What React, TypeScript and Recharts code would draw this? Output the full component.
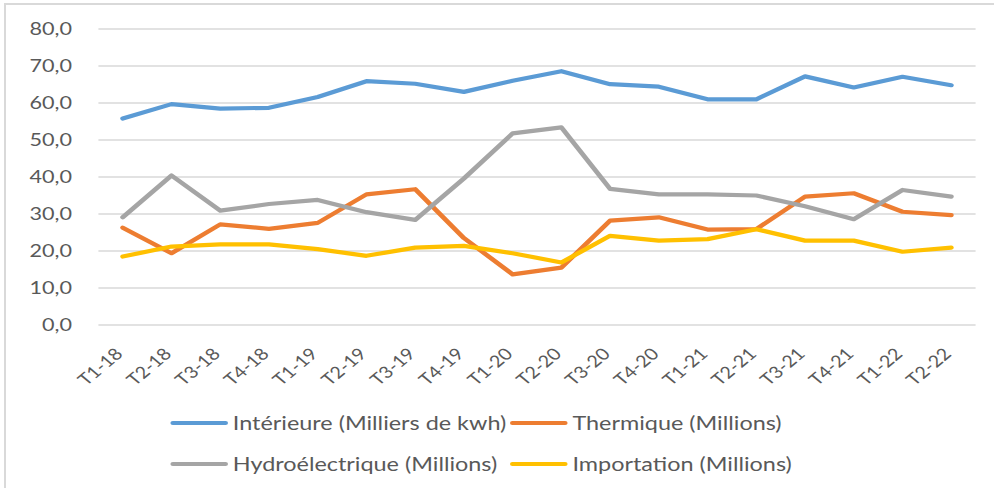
import React from 'react';
import { LineChart, Line, XAxis, YAxis, CartesianGrid, Legend } from 'recharts';

// quarters on the x axis
const quarters = [
  'T1-18', 'T2-18', 'T3-18', 'T4-18',
  'T1-19', 'T2-19', 'T3-19', 'T4-19',
  'T1-20', 'T2-20', 'T3-20', 'T4-20',
  'T1-21', 'T2-21', 'T3-21', 'T4-21',
  'T1-22', 'T2-22',
];

const interieure = [55.8, 59.7, 58.5, 58.7, 61.6, 65.9, 65.2, 63.0, 66.0, 68.6, 65.1, 64.4, 61.0, 61.0, 67.2, 64.2, 67.1, 64.8];
const thermique = [26.3, 19.4, 27.2, 26.0, 27.6, 35.3, 36.7, 23.5, 13.7, 15.5, 28.2, 29.1, 25.8, 25.9, 34.7, 35.6, 30.6, 29.7];
const hydro = [29.1, 40.4, 30.9, 32.7, 33.8, 30.5, 28.4, 39.6, 51.8, 53.4, 36.8, 35.3, 35.3, 35.0, 32.1, 28.6, 36.5, 34.7];
const importation = [18.5, 21.2, 21.8, 21.8, 20.5, 18.7, 20.9, 21.4, 19.4, 16.9, 24.1, 22.8, 23.2, 25.9, 22.8, 22.8, 19.8, 20.9];

const yTicks = [0, 10, 20, 30, 40, 50, 60, 70, 80];

const series = [
  { key: 'interieure', name: 'Intérieure (Milliers de kwh)', color: '#5b9bd5' },
  { key: 'thermique', name: 'Thermique (Millions)', color: '#ed7d31' },
  { key: 'hydro', name: 'Hydroélectrique (Millions)', color: '#a5a5a5' },
  { key: 'importation', name: 'Importation (Millions)', color: '#ffc000' },
];

const data = quarters.map((q, i) => ({
  q,
  interieure: interieure[i],
  thermique: thermique[i],
  hydro: hydro[i],
  importation: importation[i],
}));

// the original picture is stretched sideways, so the chart is too
const S = 1.2;
const W = Math.round(994 / S);
const H = 488;
const TEXT = '#595959';
// half a category step, so points sit in the middle of each slot
const HALF = (W - 82 - 15) / quarters.length / 2;

const fmt = (v: number) => v.toFixed(1).replace('.', ',');

function QuarterTick(props: any) {
  const { x, y, payload } = props;
  return (
    <g transform={`translate(${x + 1},${y + 30})`}>
      <text x={0} y={0} textAnchor="end" transform="rotate(-45)" fill={TEXT} fontSize={16.5}>
        {payload.value}
      </text>
    </g>
  );
}

function LegendBox() {
  return (
    <div
      style={{
        display: 'grid',
        gridTemplateColumns: '283px auto',
        gridAutoRows: '41px',
        alignItems: 'center',
        fontSize: 19.5,
        color: TEXT,
      }}
    >
      {series.map((s) => (
        <div key={s.key} style={{ display: 'flex', alignItems: 'center' }}>
          <span
            style={{
              display: 'inline-block',
              width: 48,
              height: 4,
              borderRadius: 2,
              background: s.color,
              marginRight: 4,
            }}
          />
          <span>{s.name}</span>
        </div>
      ))}
    </div>
  );
}

export default function App() {
  return (
    <div style={{ position: 'absolute', left: 0, top: 0, width: 994, height: H, overflow: 'hidden', background: '#fff' }}>
      <div
        style={{
          position: 'absolute',
          left: 4,
          top: 3,
          right: -4,
          bottom: -4,
          borderLeft: '2px solid #d9d9d9',
          borderTop: '2px solid #d9d9d9',
        }}
      />
      <div style={{ width: W, height: H, transform: `scaleX(${S})`, transformOrigin: '0 0', fontFamily: 'Lato, sans-serif' }}>
        <LineChart width={W} height={H} data={data} margin={{ top: 29, right: 15, left: 0, bottom: 83 }}>
          <CartesianGrid vertical={false} stroke="#d9d9d9" strokeWidth={1.4} />
          <XAxis
            dataKey="q"
            interval={0}
            axisLine={false}
            tickLine={false}
            tickSize={0}
            tickMargin={0}
            height={80}
            padding={{ left: HALF, right: HALF }}
            tick={<QuarterTick />}
          />
          <YAxis
            domain={[0, 80]}
            ticks={yTicks}
            tickFormatter={fmt}
            axisLine={false}
            tickLine={false}
            tickSize={0}
            tickMargin={22}
            width={82}
            tick={{ fill: TEXT, fontSize: 18 }}
          />
          <Legend
            layout="horizontal"
            verticalAlign="middle"
            align="center"
            wrapperStyle={{ top: 402, left: 142, width: 'auto' }}
            content={() => <LegendBox />}
          />
          {series.map((s) => (
            <Line
              key={s.key}
              type="linear"
              dataKey={s.key}
              name={s.name}
              stroke={s.color}
              strokeWidth={4.2}
              strokeLinecap="round"
              strokeLinejoin="round"
              dot={false}
              isAnimationActive={false}
            />
          ))}
        </LineChart>
      </div>
    </div>
  );
}
